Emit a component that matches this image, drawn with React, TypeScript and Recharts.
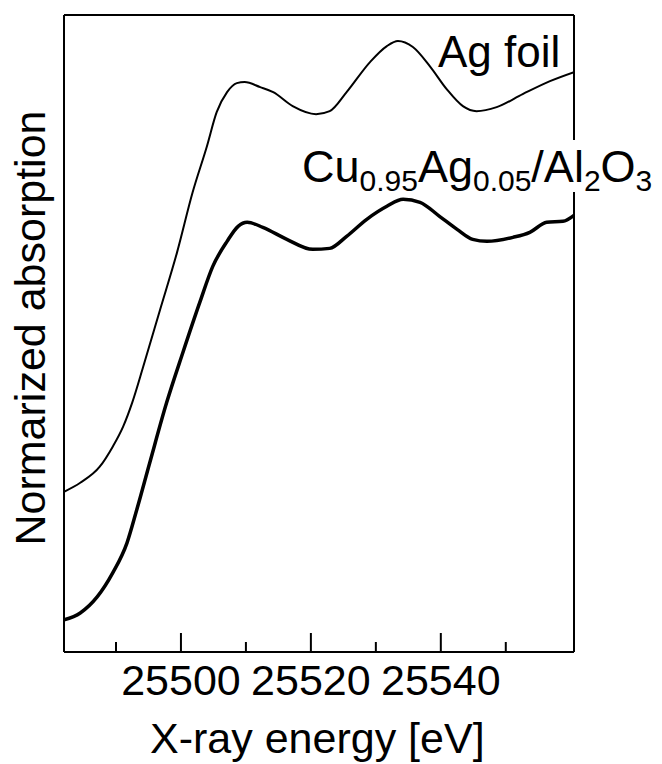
import { LineChart, Line, XAxis, YAxis } from 'recharts';

const energyTicks = [25490, 25500, 25510, 25520, 25530, 25540, 25550];

// Ag foil reference spectrum
const agEnergy = [
  25482, 25484.5, 25487.5, 25489.5, 25491.1, 25492.5, 25494.2, 25496.8, 25499.4, 25501.8,
  25504, 25505.5, 25507.1, 25508.6, 25509.8, 25512.2, 25514.2, 25517.2, 25520.8, 25522.9,
  25525.5, 25529.1, 25531.7, 25533.4, 25535.7, 25538.3, 25540.9, 25543.4, 25545.5, 25548.6,
  25552.6, 25556.8, 25560.5,
];
const agAbs = [
  0.4, 0.4225, 0.4625, 0.5125, 0.5625, 0.6225, 0.7125, 0.855, 0.9975, 1.1475,
  1.2625, 1.3475, 1.3975, 1.42, 1.4225, 1.41, 1.3975, 1.3625, 1.3425, 1.35,
  1.3975, 1.4725, 1.5125, 1.525, 1.51, 1.4625, 1.405, 1.3625, 1.35, 1.36,
  1.3925, 1.425, 1.4475,
];

// Cu0.95Ag0.05/Al2O3
const cuEnergy = [
  25482, 25484.5, 25487.1, 25489.5, 25491.7, 25493.2, 25495.2, 25497.8, 25500.3, 25502.9,
  25504.9, 25507.1, 25508.8, 25510.2, 25512.6, 25516.3, 25520.3, 25522.9, 25525.5, 25528.6,
  25531.7, 25534.2, 25536.8, 25539.8, 25542.5, 25544.9, 25547.1, 25551.1, 25553.7, 25556.3,
  25558.8, 25560.5,
];
const cuAbs = [
  0.08, 0.0975, 0.1375, 0.1975, 0.2725, 0.355, 0.4725, 0.6225, 0.7475, 0.8725,
  0.9625, 1.025, 1.0625, 1.0725, 1.06, 1.03, 1.005, 1.0075, 1.0375, 1.08,
  1.1125, 1.13, 1.1225, 1.0875, 1.055, 1.03, 1.025, 1.035, 1.0475, 1.0725,
  1.075, 1.09,
];

const agData = agEnergy.map((e, i) => ({ e, v: agAbs[i] }));
const cuData = cuEnergy.map((e, i) => ({ e, v: cuAbs[i] }));

const FONT = '"Liberation Sans", Arial, sans-serif';
const AXIS = { stroke: '#000', strokeWidth: 2 };

const EnergyTick = ({ x, y, payload }: any) => {
  const major = payload.value % 20 === 0;
  return (
    <g>
      <line x1={x} x2={x} y1={y} y2={y - (major ? 19 : 10)} stroke="#000" strokeWidth={2} />
      {major && (
        <text x={x} y={y + 43} textAnchor="middle" fontSize={43} fontFamily={FONT} fill="#000">
          {payload.value}
        </text>
      )}
    </g>
  );
};

export default function App() {
  return (
    <div style={{ position: 'absolute', left: 0, top: 0, width: 662, height: 764, background: '#fff' }}>
      <LineChart width={662} height={764} margin={{ top: 14, right: 87, bottom: 111, left: 63 }}>
        <XAxis
          type="number" dataKey="e" domain={[25482, 25560.5]} ticks={energyTicks}
          allowDataOverflow height={1} tickSize={0} tickMargin={0} interval={0}
          axisLine={AXIS} tickLine={false} tick={<EnergyTick />}
        />
        <XAxis
          xAxisId="top" orientation="top" type="number" dataKey="e" domain={[25482, 25560.5]}
          height={1} tick={false} tickLine={false} axisLine={AXIS}
        />
        <YAxis
          type="number" dataKey="v" domain={[0, 1.59]} width={1} tick={false} tickLine={false}
          axisLine={AXIS}
        />
        <YAxis
          yAxisId="right" orientation="right" type="number" dataKey="v" domain={[0, 1.59]} width={1}
          tick={false} tickLine={false} axisLine={AXIS}
        />
        <Line data={agData} dataKey="v" type="monotone" stroke="#000" strokeWidth={2}
          dot={false} activeDot={false} isAnimationActive={false} />
        <Line data={cuData} dataKey="v" type="monotone" stroke="#000" strokeWidth={3.5}
          dot={false} activeDot={false} isAnimationActive={false} />
      </LineChart>
      <svg width={662} height={764} style={{ position: 'absolute', left: 0, top: 0, pointerEvents: 'none' }}>
        <text x={150} y={753} fontSize={43} fontFamily={FONT} fill="#000">X-ray energy [eV]</text>
        <text x={45} y={328} fontSize={43} fontFamily={FONT} fill="#000" textAnchor="middle"
          transform="rotate(-90, 45, 328)">Normarized absorption</text>
        <text x={438} y={67} fontSize={44} fontFamily={FONT} fill="#000">Ag foil</text>
        <rect x={300} y={140} width={362} height={52} fill="#fff" />
        <text x={302} y={182} fontSize={45} fontFamily={FONT} fill="#000">
          Cu<tspan fontSize={30} dy={9}>0.95</tspan>
          <tspan dy={-9}>Ag</tspan><tspan fontSize={30} dy={9}>0.05</tspan>
          <tspan dy={-9}>/Al</tspan><tspan fontSize={30} dy={9}>2</tspan>
          <tspan dy={-9}>O</tspan><tspan fontSize={30} dy={9}>3</tspan>
        </text>
      </svg>
    </div>
  );
}
